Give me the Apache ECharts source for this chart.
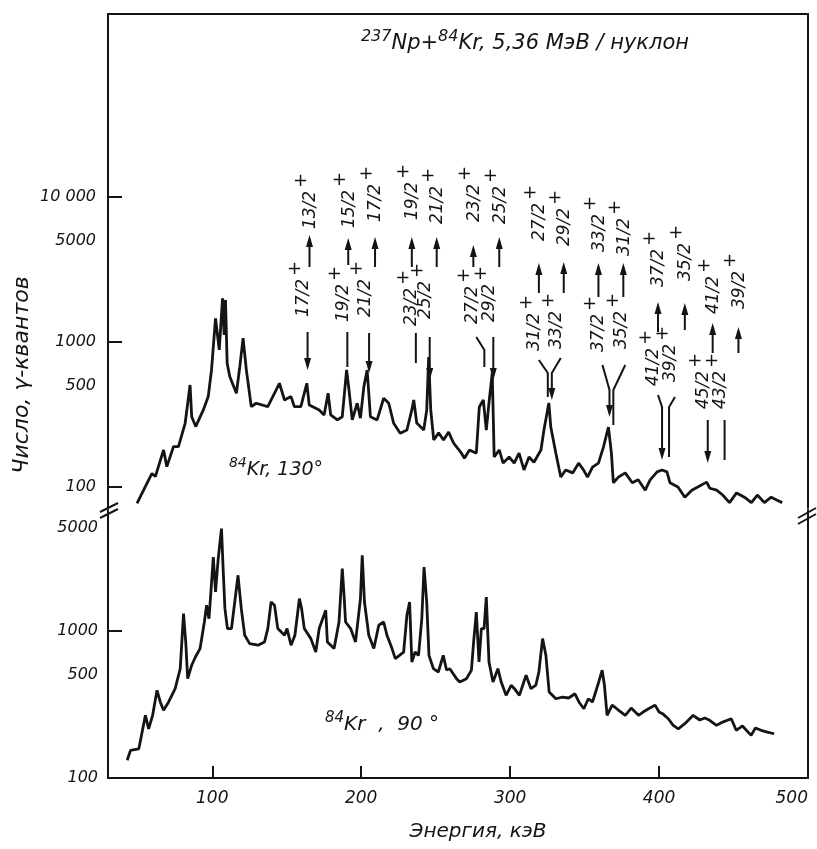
<!DOCTYPE html>
<html>
<head>
<meta charset="utf-8">
<title>237Np + 84Kr gamma spectra</title>
<script src="https://cdn.jsdelivr.net/npm/echarts@6.0.0/dist/echarts.min.js"></script>
<style>
  html, body { margin: 0; padding: 0; background: #fff; }
  #chart { width: 817px; height: 849px; }
</style>
</head>
<body>
<div id="chart"></div>
<script>
// spectrum 84Kr, 130 deg (upper panel): energy, keV / counts
const energy130 = [
  49.5, 51.8, 59.5, 61.8, 67.3, 69.5, 74, 77.3, 81.8, 85.1,
  86.2, 88.9, 94, 97.3, 99.5, 102.2, 104.7, 106.9, 108, 108.9,
  110, 111.8, 116.2, 118.5, 120.7, 122.9, 126.2, 129.5, 137.3, 145.1,
  148.5, 152.9, 155.1, 159.5, 163.5, 165.1, 171.8, 175.1, 177.8, 179.5,
  184, 187.3, 190.2, 191.8, 194, 197.3, 199.5, 201.8, 204, 206.2,
  210.7, 215.1, 218.5, 221.8, 226.2, 230.7, 234, 235.3, 237.3, 242,
  244, 245.3, 246.7, 248.7, 252, 255.3, 258.7, 262, 267.3, 269.3,
  272.7, 277.3, 279.3, 282, 284, 286, 288, 289.3, 292.7, 295.3,
  299.3, 302.7, 306, 309.3, 312.7, 316, 320.7, 322.7, 326, 327.3,
  330.7, 334, 337.3, 342, 346, 349.3, 352, 355.3, 359.3, 362.7,
  366, 368, 369.3, 372.7, 377.3, 382, 386, 390.7, 394, 398.7,
  402, 405.3, 407.3, 412.7, 417.3, 422, 426, 432, 434, 438.7,
  442.7, 447.3, 452, 457.3, 462, 466, 470.7, 475.3, 479.3, 482.7
];
const counts130 = [
  77, 86, 124, 118, 180, 138, 190, 190, 275, 505,
  305, 261, 340, 420, 641, 1456, 881, 2000, 1117, 1950,
  713, 576, 443, 676, 1062, 641, 358, 378, 358, 519,
  398, 420, 358, 358, 519, 368, 340, 314, 443, 314,
  290, 305, 641, 467, 290, 378, 298, 492, 641, 305,
  290, 409, 378, 275, 235, 247, 340, 398, 276, 247,
  340, 788, 340, 211, 236, 211, 239, 201, 171, 158,
  180, 171, 356, 398, 247, 398, 611, 161, 180, 146,
  161, 146, 171, 131, 161, 148, 180, 247, 380, 259,
  171, 117, 131, 125, 146, 131, 117, 137, 146, 189,
  259, 171, 107, 117, 125, 107, 112, 95, 112, 127,
  131, 127, 107, 100, 85, 95, 100, 108, 98, 95,
  88, 78, 91, 85, 78, 88, 78, 85, 81, 78
];

// spectrum 84Kr, 90 deg (lower panel)
const energy90 = [
  42.9, 45.1, 50.7, 52.9, 55.1, 57.3, 60, 62.9, 65.1, 67.3,
  70.7, 75.1, 78.5, 80.7, 82.2, 83.5, 86.2, 88.7, 91.8, 94.7,
  96.2, 97.8, 99.1, 100.7, 102.2, 104, 106.2, 107.3, 108.5, 110.2,
  112.9, 115.1, 117.3, 119.5, 121.8, 125.1, 130.7, 135.1, 137.3, 139.5,
  141.8, 144, 148.5, 150.2, 152.9, 155.5, 158.5, 160, 161.8, 166.2,
  169.5, 171.8, 176.2, 177.3, 181.8, 185.1, 187.3, 188.5, 189.5, 192.9,
  196.2, 199.5, 200.7, 202.2, 205.1, 208.5, 211.8, 215.1, 217.3, 220.7,
  222.9, 228.5, 230.7, 232.5, 234, 236.2, 238.5, 240.7, 242.2, 244,
  245.5, 248.5, 251.8, 255.1, 257.3, 259.5, 264, 266.2, 270.7, 274,
  275.5, 277.3, 279.1, 280.7, 282.5, 284, 285.8, 288.5, 291.8, 294,
  297.3, 300.7, 302.9, 306.2, 310.7, 314, 317.3, 319.3, 321.8, 324,
  326.2, 330.7, 335.1, 339.3, 343.5, 346.2, 349.5, 352.5, 355.3, 359.5,
  361.8, 363.3, 365.1, 368.5, 372.7, 377.3, 381.3, 386.2, 389.3, 392.9,
  397.3, 400, 402.7, 406.2, 409.5, 412.9, 417.3, 422.9, 427.3, 430.7,
  434, 438.5, 442.7, 448.5, 451.8, 456, 461.8, 464.7, 468.5, 472.7,
  477.3
];
const counts90 = [
  132, 154, 158, 205, 267, 216, 268, 395, 329, 289,
  329, 405, 554, 1312, 841, 474, 585, 665, 758, 1151,
  1496, 1213, 1841, 3186, 1841, 3104, 4966, 2654, 1419, 1038,
  1038, 1574, 2392, 1419, 935, 820, 800, 842, 1038, 1574,
  1496, 1038, 935, 1038, 800, 935, 1660, 1419, 1038, 887,
  719, 1038, 1383, 842, 759, 1151, 2654, 1750, 1151, 1038,
  842, 1660, 3272, 1574, 935, 759, 1094, 1151, 935, 759,
  649, 719, 1280, 1574, 615, 719, 682, 1213, 2722, 1574,
  682, 554, 526, 682, 543, 554, 474, 450, 474, 541,
  842, 1346, 615, 1038, 1038, 1703, 615, 450, 554, 450,
  365, 427, 405, 365, 500, 405, 429, 526, 887, 684,
  385, 346, 355, 350, 374, 329, 296, 346, 329, 450,
  541, 429, 267, 313, 290, 267, 299, 267, 281, 296,
  313, 281, 272, 253, 228, 216, 234, 267, 248, 256,
  247, 228, 240, 253, 211, 226, 195, 219, 211, 205,
  200
];

// axis ticks and labels
const xTickValues = [100, 200, 300, 400];
const xLabelValues = [100, 200, 300, 400, 500];
const upperTickValues = [100, 1000, 10000];
const upperLabelValues = [100, 500, 1000, 5000, 10000];
const lowerTickValues = [1000];
const lowerLabelValues = [100, 500, 1000, 5000];

// band level annotations (spins), energy of label column and of the marked peak, keV
const topSpins = ['13/2', '15/2', '17/2', '19/2', '21/2', '23/2', '25/2', '27/2', '29/2', '33/2', '31/2', '37/2', '35/2', '41/2', '39/2'];
const lowSpins = ['17/2', '19/2', '21/2', '23/2', '25/2', '27/2', '29/2', '31/2', '33/2', '37/2', '35/2', '41/2', '39/2', '45/2', '43/2'];
const columnEnergy = [165.3, 191.3, 209.3, 234, 250.7, 275.3, 292.7, 319.3, 336, 359.3, 376, 399.3, 417.3, 436, 453.3];
const markStartEnergy = [164, 190.7, 205.3, 236.7, 246, 277.3, 288.7, 319.3, 334, 362, 377.3, 399.3, 410.7, 432.7, 444];
const markPeakEnergy = [164, 190.7, 205.3, 236.7, 246, 282.7, 288.7, 325.3, 328, 366.7, 369.3, 402, 406.7, 432.7, 444];
const markHasHead = [true, false, true, false, true, false, true, false, true, true, false, true, false, true, false];

// layout of annotation rows (px): top label centre, up arrow top/bottom, low label centre, down mark top/bend/bottom
const rowLayout = [
  [210, 235, 267, 298, 332, 332, 370],
  [209, 238, 265, 303, 332, 332, 367],
  [203, 237, 267, 298, 333, 333, 373],
  [201, 237, 267, 307, 333, 333, 363],
  [205, 237, 267, 300, 337, 337, 380],
  [203, 245, 267, 305, 337, 350, 367],
  [205, 237, 267, 303, 337, 337, 380],
  [222, 263, 293, 332, 360, 373, 397],
  [227, 262, 293, 330, 358, 373, 400],
  [233, 263, 297, 333, 365, 390, 417],
  [237, 263, 297, 330, 365, 390, 425],
  [268, 302, 332, 367, 395, 407, 460],
  [262, 303, 330, 363, 397, 407, 457],
  [295, 323, 353, 390, 420, 420, 463],
  [290, 327, 353, 390, 420, 420, 460]
];

const ink = '#141414';
const fam = '"DejaVu Sans", "Liberation Sans", sans-serif';
const chart = echarts.init(document.getElementById('chart'));

function pairs(xs, ys) {
  return xs.map((x, i) => [x, ys[i]]);
}

function yLabel(v) {
  return v >= 10000 ? '10 000' : String(v);
}

const axisLine = { show: true, onZero: false, lineStyle: { color: ink, width: 2 } };
const tickFont = { color: ink, fontStyle: 'italic', fontFamily: fam, fontSize: 16 };

const option = {
  backgroundColor: '#fff',
  animation: false,
  grid: [
    { left: 108, right: 9, top: 14, height: 494, outerBoundsMode: 'none', containLabel: false },
    { left: 108, right: 9, top: 510, bottom: 71, outerBoundsMode: 'none', containLabel: false }
  ],
  xAxis: [
    {
      gridIndex: 0, type: 'value', min: 30, max: 500,
      axisLine: { show: false }, axisTick: { show: false },
      axisLabel: { show: false }, splitLine: { show: false }
    },
    {
      gridIndex: 1, type: 'value', min: 30, max: 500,
      axisLine: axisLine,
      axisTick: { inside: true, length: 12, customValues: xTickValues, lineStyle: { color: ink, width: 2 } },
      axisLabel: Object.assign({ margin: 12, customValues: xLabelValues, alignMaxLabel: 'right' }, tickFont, { fontSize: 17 }),
      splitLine: { show: false }
    },
    {
      gridIndex: 0, type: 'value', position: 'top', min: 30, max: 500,
      axisLine: axisLine, axisTick: { show: false },
      axisLabel: { show: false }, splitLine: { show: false }
    }
  ],
  yAxis: [
    {
      gridIndex: 0, type: 'log', min: 71.6, max: 182800,
      axisLine: axisLine,
      axisTick: { inside: true, length: 14, customValues: upperTickValues, lineStyle: { color: ink, width: 2 } },
      axisLabel: Object.assign({ margin: 12, customValues: upperLabelValues, formatter: yLabel }, tickFont),
      splitLine: { show: false }, minorTick: { show: false }
    },
    {
      gridIndex: 1, type: 'log', min: 100, max: 6650,
      axisLine: axisLine,
      axisTick: { inside: true, length: 14, customValues: lowerTickValues, lineStyle: { color: ink, width: 2 } },
      axisLabel: Object.assign({ margin: 10, customValues: lowerLabelValues, formatter: yLabel }, tickFont),
      splitLine: { show: false }, minorTick: { show: false }
    },
    {
      gridIndex: 0, type: 'value', position: 'right', min: 0, max: 1,
      axisLine: axisLine, axisTick: { show: false },
      axisLabel: { show: false }, splitLine: { show: false }
    },
    {
      gridIndex: 1, type: 'value', position: 'right', min: 0, max: 1,
      axisLine: axisLine, axisTick: { show: false },
      axisLabel: { show: false }, splitLine: { show: false }
    }
  ],
  series: [
    {
      name: '84Kr, 130°', type: 'line', xAxisIndex: 0, yAxisIndex: 0,
      data: pairs(energy130, counts130), showSymbol: false, silent: true,
      lineStyle: { color: ink, width: 2.8 }
    },
    {
      name: '84Kr, 90°', type: 'line', xAxisIndex: 1, yAxisIndex: 1,
      data: pairs(energy90, counts90), showSymbol: false, silent: true,
      lineStyle: { color: ink, width: 2.8 }
    }
  ]
};

chart.setOption(option);

// --- annotations: texts, arrows, axis breaks ---
function text(str, x, y, size, rot, italic) {
  return {
    type: 'text', x: x, y: y, rotation: rot || 0, silent: true,
    style: {
      text: str, fill: ink,
      font: (italic === false ? '' : 'italic ') + size + 'px ' + fam,
      align: 'center', verticalAlign: 'middle',
      textAlign: 'center', textVerticalAlign: 'middle'
    }
  };
}

function supText(sup, main, x, y, size) {
  return {
    type: 'text', x: x, y: y, silent: true,
    style: {
      text: '{s|' + sup + '}{n|' + main + '}',
      align: 'center', verticalAlign: 'middle',
      textAlign: 'center', textVerticalAlign: 'middle',
      rich: {
        s: { fill: ink, fontStyle: 'italic', fontFamily: fam, fontSize: Math.round(size * 0.75), lineHeight: 14, verticalAlign: 'top' },
        n: { fill: ink, fontStyle: 'italic', fontFamily: fam, fontSize: size, lineHeight: 28 }
      }
    }
  };
}

function line(points, width) {
  return { type: 'polyline', silent: true, shape: { points: points }, style: { stroke: ink, lineWidth: width || 2, fill: null } };
}

function head(x, y, dir) {
  // dir = -1 points up, +1 points down
  return {
    type: 'polygon', silent: true,
    shape: { points: [[x, y], [x - 3.5, y - dir * 12], [x + 3.5, y - dir * 12]] },
    style: { fill: ink }
  };
}

function build() {
  const els = [];
  const px = e => chart.convertToPixel({ xAxisIndex: 0 }, e);
  const half = 19;
  for (let i = 0; i < topSpins.length; i++) {
    const r = rowLayout[i];
    const xc = px(columnEnergy[i]);
    const xs = px(markStartEnergy[i]);
    const xp = px(markPeakEnergy[i]);
    // upper level label with up arrow under it
    els.push(text(topSpins[i], xc + 1, r[0], 17, Math.PI / 2));
    els.push(text('+', xc - 9, r[0] - half - 10, 18, 0, false));
    els.push(line([[xc, r[2]], [xc, r[1] + 4]]));
    els.push(head(xc, r[1], -1));
    // lower level label with mark down to the peak
    els.push(text(lowSpins[i], xs - 4, r[3], 17, Math.PI / 2));
    els.push(text('+', xs - 13, r[3] - half - 10, 18, 0, false));
    const pts = [[xs, r[4]], [xp, r[5]], [xp, markHasHead[i] ? r[6] - 4 : r[6]]];
    els.push(line(pts));
    if (markHasHead[i]) els.push(head(xp, r[6], 1));
  }

  // titles
  els.push({
    type: 'text', x: 525, y: 44, silent: true,
    style: {
      text: '{s|237}{n|Np+}{s|84}{n|Kr, 5,36 МэВ / нуклон}',
      align: 'center', verticalAlign: 'middle', textAlign: 'center', textVerticalAlign: 'middle',
      rich: {
        s: { fill: ink, fontStyle: 'italic', fontFamily: fam, fontSize: 16, lineHeight: 14, verticalAlign: 'top' },
        n: { fill: ink, fontStyle: 'italic', fontFamily: fam, fontSize: 21, lineHeight: 30 }
      }
    }
  });
  els.push(supText('84', 'Kr, 130°', 276, 470, 19));
  els.push(supText('84', 'Kr  ,  90 °', 382, 725, 20));
  els.push(text('Число, γ-квантов', 22, 375, 22, Math.PI / 2));
  els.push(text('Энергия, кэВ', 478, 832, 20));

  // axis break marks
  const lx = 108, rx = 808;
  els.push(line([[lx - 8, 512], [lx + 10, 503]], 2));
  els.push(line([[lx - 8, 518], [lx + 10, 509]], 2));
  els.push(line([[rx - 10, 518], [rx + 8, 508]], 2));
  els.push(line([[rx - 10, 524], [rx + 8, 514]], 2));

  chart.setOption({ graphic: { elements: els } });
}

build();
</script>
</body>
</html>
